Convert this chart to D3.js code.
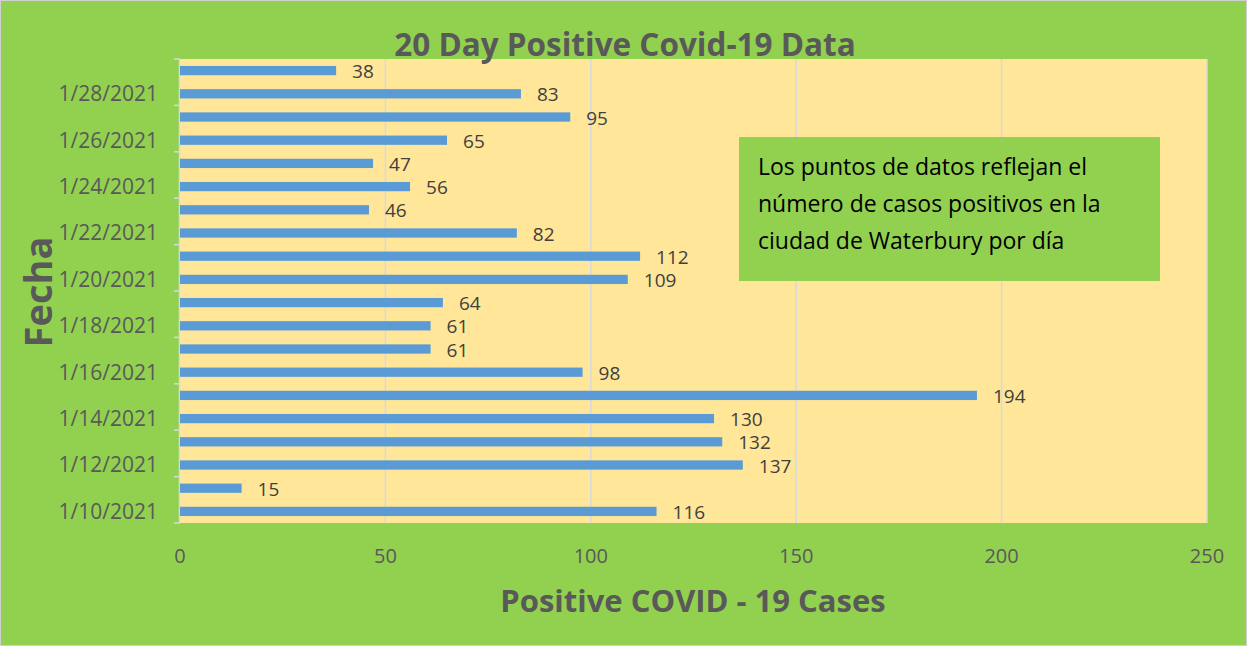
<!DOCTYPE html>
<html lang="en">
<head>
	<meta charset="UTF-8">
	<title>20 Day Positive Covid-19 Data</title>
	<script src="https://d3js.org/d3.v7.min.js"></script>
	<style>
		body { margin: 0; background: #fff; }
		text { font-family: "Open Sans", "Noto Sans", sans-serif; }
	</style>
</head>
<body>
	<div class="box"></div>

	<script type="text/javascript">
		let dates = ['1/10/2021', '1/11/2021', '1/12/2021', '1/13/2021', '1/14/2021', '1/15/2021', '1/16/2021',
			'1/17/2021', '1/18/2021', '1/19/2021', '1/20/2021', '1/21/2021', '1/22/2021', '1/23/2021',
			'1/24/2021', '1/25/2021', '1/26/2021', '1/27/2021', '1/28/2021', '1/29/2021']
		let cases = [116, 15, 137, 132, 130, 194, 98, 61, 61, 64, 109, 112, 82, 46, 56, 47, 65, 95, 83, 38]
		let xTicks = [0, 50, 100, 150, 200, 250]
		let title = '20 Day Positive Covid-19 Data'
		let xTitle = 'Positive COVID - 19 Cases'
		let yTitle = 'Fecha'
		let note = ['Los puntos de datos reflejan el', 'número de casos positivos en la', 'ciudad de Waterbury por día']

		let width = 1247
		let height = 646
		let plot = { left: 180, right: 1207, top: 59, bottom: 523 }
		let green = '#92d050'
		let yellow = '#ffe699'
		let gray = '#595959'

		let svg = d3.select('.box').append('svg').attr('width', width).attr('height', height)

		svg.append('rect').attr('x', 0.5).attr('y', 0.5).attr('width', width - 1).attr('height', height - 1)
			.attr('fill', green).attr('stroke', '#d0d0d0')

		svg.append('rect').attr('x', plot.left).attr('y', plot.top)
			.attr('width', plot.right - plot.left).attr('height', plot.bottom - plot.top)
			.attr('fill', yellow)

		let x = d3.scaleLinear().domain([0, 250]).range([plot.left, plot.right])
		let y = d3.scaleBand().domain(dates.slice().reverse()).range([plot.top, plot.bottom]).paddingInner(0.6).paddingOuter(0.3)
		let band = d3.scaleBand().domain(dates.slice().reverse()).range([plot.top, plot.bottom])

		// gridlines
		svg.append('g').selectAll('line').data(xTicks.slice(1)).enter().append('line')
			.attr('x1', d => x(d)).attr('x2', d => x(d))
			.attr('y1', plot.top).attr('y2', plot.bottom)
			.attr('stroke', '#d9d9d9').attr('stroke-width', 1.5)

		// x tick labels
		svg.append('g').selectAll('text').data(xTicks).enter().append('text')
			.attr('x', d => x(d)).attr('y', 563)
			.attr('text-anchor', 'middle').attr('font-size', '20px').attr('fill', gray)
			.text(d => d)

		// y axis line and ticks
		svg.append('line').attr('x1', plot.left - 0.5).attr('x2', plot.left - 0.5)
			.attr('y1', plot.top).attr('y2', plot.bottom)
			.attr('stroke', '#d9d9d9').attr('stroke-width', 1.5)
		let tickPos = d3.range(0, dates.length + 1, 2).map(i => plot.top + i * band.step())
		svg.append('g').selectAll('line').data(tickPos).enter().append('line')
			.attr('x1', plot.left - 6).attr('x2', plot.left)
			.attr('y1', d => d).attr('y2', d => d)
			.attr('stroke', '#d9d9d9').attr('stroke-width', 1.5)

		// y tick labels (every other date)
		svg.append('g').selectAll('text').data(dates.filter((d, i) => i % 2 === 0)).enter().append('text')
			.attr('x', 158).attr('y', d => band(d) + band.bandwidth() / 2)
			.attr('dy', '0.35em')
			.attr('text-anchor', 'end').attr('font-size', '21px').attr('fill', gray)
			.text(d => d)

		// bars
		svg.append('g').selectAll('rect').data(dates).enter().append('rect')
			.attr('x', x(0)).attr('y', d => y(d))
			.attr('width', (d, i) => x(cases[i]) - x(0))
			.attr('height', y.bandwidth())
			.attr('fill', '#5b9bd5')

		// value labels
		svg.append('g').selectAll('text').data(dates).enter().append('text')
			.attr('x', (d, i) => x(cases[i]) + 16)
			.attr('y', d => band(d) + band.bandwidth() / 2)
			.attr('dy', '0.4em')
			.attr('font-size', '19px').attr('fill', '#404040')
			.text((d, i) => cases[i])

		// titles
		svg.append('text').attr('x', 625).attr('y', 56)
			.attr('text-anchor', 'middle').attr('font-size', '31.5px').attr('font-weight', 'bold').attr('fill', gray)
			.text(title)
		svg.append('text').attr('x', 693).attr('y', 612)
			.attr('text-anchor', 'middle').attr('font-size', '31px').attr('font-weight', 'bold').attr('fill', gray)
			.text(xTitle)
		svg.append('text').attr('transform', 'translate(52, 292) rotate(-90)')
			.attr('text-anchor', 'middle').attr('font-size', '38px').attr('font-weight', 'bold').attr('fill', gray)
			.text(yTitle)

		// note box
		svg.append('rect').attr('x', 739).attr('y', 137).attr('width', 421).attr('height', 144).attr('fill', green)
		svg.append('g').selectAll('text').data(note).enter().append('text')
			.attr('x', 758).attr('y', (d, i) => 175 + i * 37)
			.attr('font-size', '23px').attr('fill', '#000')
			.text(d => d)
	</script>
</body>
</html>
